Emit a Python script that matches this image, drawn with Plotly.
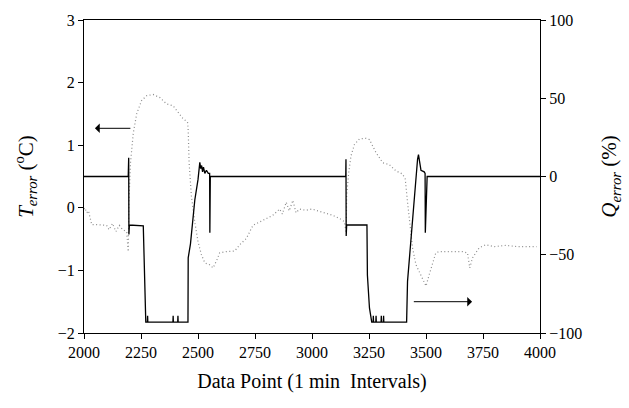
import plotly.graph_objects as go

# Dotted series: T_error (left axis, degC)
t_x = [2000, 2004, 2012, 2020, 2026, 2034, 2060, 2099, 2110, 2125, 2140, 2155, 2170, 2187, 2194,
       2197, 2204, 2216, 2231, 2252, 2274, 2303, 2333, 2362, 2391, 2413, 2435, 2454, 2457, 2461,
       2471, 2486, 2500, 2515, 2530, 2551, 2566, 2581, 2595, 2624, 2661, 2683, 2712, 2741, 2770,
       2800, 2828, 2858, 2870, 2887, 2900, 2916, 2930, 2945, 2974, 3000, 3033, 3062, 3091, 3120,
       3142, 3150, 3152, 3161, 3171, 3186, 3208, 3237, 3252, 3281, 3310, 3339, 3368, 3397, 3409,
       3419, 3430, 3441, 3456, 3478, 3500, 3514, 3529, 3543, 3558, 3600, 3660, 3682, 3692, 3704,
       3733, 3762, 3800, 3850, 3900, 3966, 3985]
t_err = [-0.02, 0.0, -0.08, -0.05, -0.15, -0.27, -0.27, -0.28, -0.35, -0.25, -0.38, -0.28, -0.35, -0.38, -0.70,
         0.09, 0.72, 1.19, 1.50, 1.71, 1.79, 1.81, 1.76, 1.66, 1.63, 1.53, 1.42, 1.37, 1.24, 0.72,
         0.19, -0.23, -0.54, -0.75, -0.88, -0.91, -0.96, -0.85, -0.72, -0.70, -0.69, -0.59, -0.49, -0.28, -0.23,
         -0.17, -0.12, -0.02, -0.10, 0.09, -0.05, 0.12, -0.08, -0.02, -0.04, -0.02, -0.06, -0.09, -0.12, -0.17,
         -0.22, -0.40, 0.20, 0.56, 0.83, 1.01, 1.10, 1.11, 1.09, 0.88, 0.72, 0.69, 0.59, 0.54, 0.46,
         0.09, -0.33, -0.64, -0.91, -1.07, -1.25, -1.07, -0.88, -0.72, -0.70, -0.70, -0.70, -0.72, -0.96, -0.80,
         -0.64, -0.59, -0.62, -0.60, -0.62, -0.62, -0.62]

# Solid series: Q_error (right axis, %)
q_x = [2000, 2194, 2196, 2197, 2199, 2260, 2271, 2278, 2279, 2280, 2390, 2391, 2392, 2411, 2412, 2413,
       2456, 2457, 2467, 2479, 2486, 2500, 2508, 2512, 2516, 2520, 2524, 2530, 2537, 2545, 2551, 2552, 2554,
       3148, 3149, 3150, 3152, 3241, 3243, 3252, 3262, 3268, 3269, 3270, 3280, 3281, 3282, 3303, 3304, 3305,
       3313, 3314, 3315, 3415, 3419, 3463, 3467, 3478, 3492, 3496, 3497, 3505, 4000]
q_err = [0, 0, 12, -37, -31, -31.5, -93, -93, -89, -93, -93, -89, -93, -93, -89, -93,
         -93, -52, -43, -27, -15, -2, 9, 5, 7, 3, 6, 2, 4, 2, 2, -36, 0,
         0, 11, -38, -31, -31, -63, -84, -93, -93, -89, -93, -93, -89, -93, -93, -89, -93,
         -93, -89, -93, -93, -67, 11, 14, 4, 3, 2, -36, 0, 0]

x_ticks = [2000, 2250, 2500, 2750, 3000, 3250, 3500, 3750, 4000]

FONT = "Liberation Serif, Times New Roman, serif"

fig = go.Figure()
fig.add_trace(go.Scatter(x=t_x, y=t_err, mode="lines", yaxis="y",
                         line=dict(color="#8c8c8c", width=1.2, dash="1px,2.5px"), showlegend=False))
fig.add_trace(go.Scatter(x=q_x, y=q_err, mode="lines", yaxis="y2",
                         line=dict(color="black", width=1.3), showlegend=False))

axis_common = dict(showgrid=False, zeroline=False, showline=True, linecolor="black", linewidth=1,
                   ticks="outside", ticklen=5, tickcolor="black",
                   tickfont=dict(family=FONT, size=16, color="black"))

fig.update_layout(
    width=629, height=408,
    margin=dict(l=84, r=88, t=15, b=75),
    paper_bgcolor="white", plot_bgcolor="white",
    font=dict(family=FONT, color="black"),
    xaxis=dict(range=[2000, 4000], tickvals=x_ticks, mirror=True,
               title=dict(text="Data Point (1 min  Intervals)", font=dict(family=FONT, size=20), standoff=13),
               **axis_common),
    yaxis=dict(range=[-2, 3], dtick=1,
               title=dict(text="<i>T</i><sub><i>error</i></sub> (<sup>o</sup>C)", font=dict(family=FONT, size=21), standoff=18),
               **axis_common),
    yaxis2=dict(range=[-100, 100], dtick=50, overlaying="y", side="right",
                title=dict(text="<i>Q</i><sub><i>error</i></sub> (%)", font=dict(family=FONT, size=21), standoff=20),
                **axis_common),
    annotations=[
        dict(x=2048, y=1.27, ax=2210, ay=1.27, xref="x", yref="y", axref="x", ayref="y",
             showarrow=True, arrowhead=1, arrowsize=1.6, arrowwidth=1, arrowcolor="black", text=""),
        dict(x=3702, y=-1.5, ax=3440, ay=-1.5, xref="x", yref="y", axref="x", ayref="y",
             showarrow=True, arrowhead=1, arrowsize=1.6, arrowwidth=1, arrowcolor="black", text=""),
    ],
)

fig.write_html("out.html")
